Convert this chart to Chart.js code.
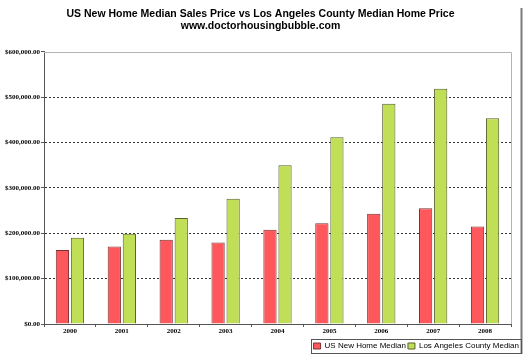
<!DOCTYPE html>
<html>
<head>
<meta charset="utf-8">
<script src="https://cdn.jsdelivr.net/npm/chart.js@4.4.0/dist/chart.umd.min.js"></script>
<style>
  html, body { margin: 0; padding: 0; background: #fff; }
  #wrap { width: 525px; height: 354px; position: relative; }
</style>
</head>
<body>
<div id="wrap"><canvas id="c" width="525" height="354"></canvas></div>
<script>
const titleLines = ['US New Home Median Sales Price vs Los Angeles County Median Home Price', 'www.doctorhousingbubble.com'];
const years = ['2000', '2001', '2002', '2003', '2004', '2005', '2006', '2007', '2008'];
const usNewHomeMedian = [163000, 171000, 186000, 180000, 208000, 222000, 243000, 255000, 215000];
const laCountyMedian = [190000, 199000, 234000, 276000, 350000, 412000, 486000, 519000, 454000];
const yTicks = [0, 100000, 200000, 300000, 400000, 500000, 600000];
const seriesNames = ['US New Home Median', 'Los Angeles County Median'];

const framePlugin = {
  id: 'frame',
  afterDraw(chart) {
    const ctx = chart.ctx;
    const a = chart.chartArea;
    ctx.save();
    ctx.strokeStyle = '#b4b4b4';
    ctx.lineWidth = 1;
    ctx.beginPath();
    ctx.moveTo(a.left, Math.round(a.top) + 0.5);
    ctx.lineTo(Math.round(a.right) + 0.5, Math.round(a.top) + 0.5);
    ctx.lineTo(Math.round(a.right) + 0.5, a.bottom);
    ctx.stroke();
    ctx.strokeStyle = '#7a7a7a';
    ctx.lineWidth = 2;
    ctx.beginPath();
    ctx.moveTo(521.5, 8);
    ctx.lineTo(521.5, 354);
    ctx.stroke();
    const lg = chart.legend;
    if (lg && lg.legendHitBoxes && lg.legendHitBoxes.length) {
      const hb = lg.legendHitBoxes;
      const l = hb[0].left - 3;
      const r = 521;
      const t = hb[0].top - 3;
      const b = hb[0].top + hb[0].height + 3;
      ctx.strokeStyle = '#555';
      ctx.lineWidth = 1;
      ctx.strokeRect(Math.round(l) + 0.5, Math.round(t) + 0.5, Math.round(r - l), Math.round(b - t));
    }
    ctx.restore();
  }
};

new Chart(document.getElementById('c'), {
  type: 'bar',
  data: {
    labels: years,
    datasets: [
      {
        label: seriesNames[0],
        data: usNewHomeMedian,
        backgroundColor: 'rgb(255,88,92)',
        borderColor: '#7c3030',
        borderWidth: 1,
        barPercentage: 0.88,
        categoryPercentage: 0.58
      },
      {
        label: seriesNames[1],
        data: laCountyMedian,
        backgroundColor: 'rgb(192,222,86)',
        borderColor: '#56622a',
        borderWidth: 1,
        barPercentage: 0.88,
        categoryPercentage: 0.58
      }
    ]
  },
  options: {
    responsive: false,
    animation: false,
    devicePixelRatio: 1,
    layout: { padding: { left: 0, right: 4, top: 0, bottom: -6 } },
    plugins: {
      title: {
        display: true,
        text: titleLines,
        color: '#000',
        font: { family: 'Liberation Sans', size: 10.5, weight: 'bold', lineHeight: 1.14 },
        padding: { top: 8, bottom: 20 }
      },
      legend: {
        display: true,
        position: 'bottom',
        align: 'end',
        labels: {
          color: '#000',
          font: { family: 'Liberation Sans', size: 8 },
          boxWidth: 7,
          boxHeight: 6,
          padding: 2
        }
      },
      tooltip: { enabled: false }
    },
    scales: {
      x: {
        afterFit(s) { s.height = 16; },
        grid: {
          display: true,
          offset: true,
          drawOnChartArea: false,
          drawTicks: true,
          tickLength: 3,
          tickColor: '#555',
          color: '#555'
        },
        border: { display: true, color: '#555', width: 1 },
        ticks: {
          color: '#000',
          font: { family: 'Liberation Serif', size: 7, weight: 'bold' },
          padding: 0,
          maxRotation: 0
        }
      },
      y: {
        min: 0,
        max: 600000,
        afterFit(s) { s.width = 44; },
        afterBuildTicks(s) { s.ticks = yTicks.map(v => ({ value: v })); },
        grid: {
          color(ctx) {
            const v = ctx.tick ? ctx.tick.value : null;
            return (v === 0 || v === 600000) ? 'rgba(0,0,0,0)' : '#333';
          },
          lineWidth: 1,
          drawTicks: true,
          tickLength: 3,
          tickColor: '#555',
          tickBorderDash: []
        },
        border: { display: true, color: '#555', width: 1, dash: [2, 2] },
        ticks: {
          color: '#000',
          font: { family: 'Liberation Serif', size: 7, weight: 'bold' },
          padding: 1,
          callback(v) {
            return '$' + Number(v).toLocaleString('en-US', { minimumFractionDigits: 2, maximumFractionDigits: 2 });
          }
        }
      },
      yRight: {
        position: 'right',
        display: true,
        afterFit(s) { s.width = 10; },
        grid: { display: false, drawOnChartArea: false },
        border: { display: false },
        ticks: { display: false }
      }
    }
  },
  plugins: [framePlugin]
});
</script>
</body>
</html>
